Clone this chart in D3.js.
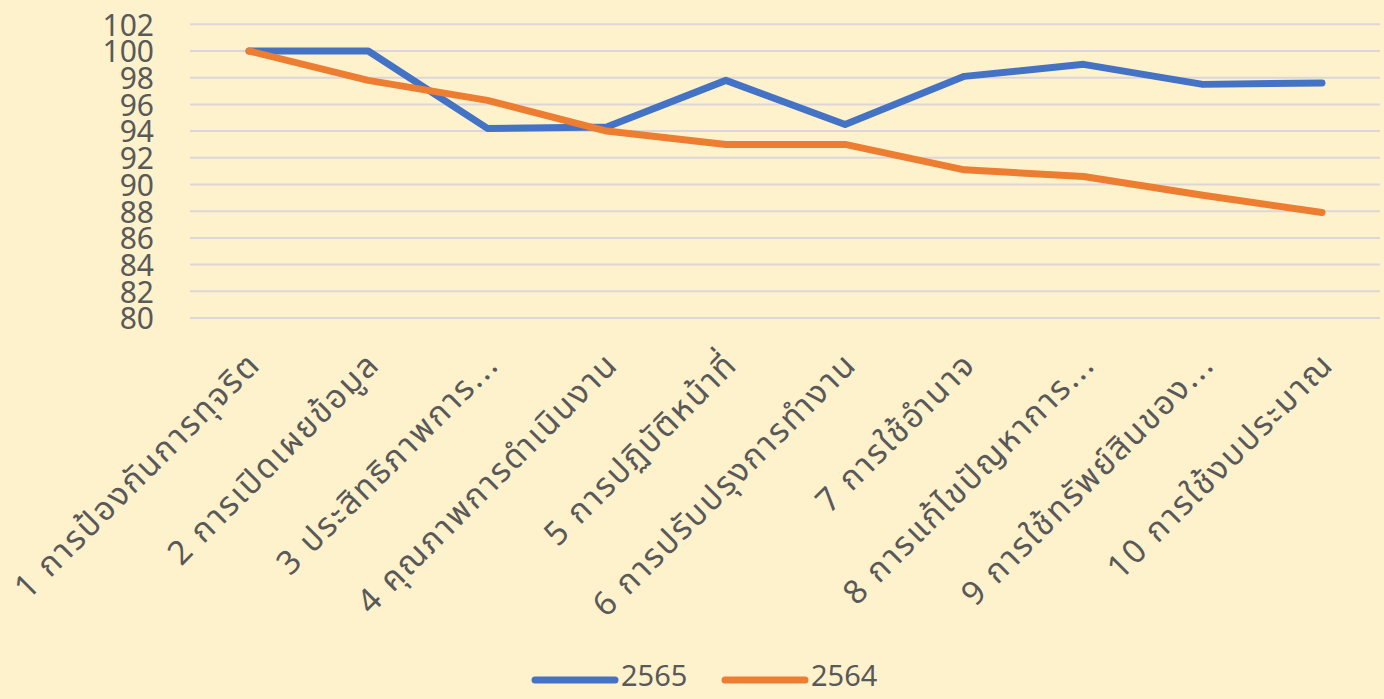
<!DOCTYPE html>
<html><head><meta charset="utf-8">
<script src="https://cdn.jsdelivr.net/npm/d3@7"></script>
<style>
html,body{margin:0;padding:0;background:#FEF2CD;}
svg{display:block;}
text{font-family:"Noto Sans Thai","Leelawadee UI",Tahoma,"Noto Sans","DejaVu Sans",sans-serif;fill:#595959;}
</style></head>
<body>
<svg id="chart" width="1384" height="699"></svg>
<script>
const categories = ["1 การป้องกันการทุจริต","2 การเปิดเผยข้อมูล","3 ประสิทธิภาพการ...","4 คุณภาพการดำเนินงาน","5 การปฏิบัติหน้าที่","6 การปรับปรุงการทำงาน","7 การใช้อำนาจ","8 การแก้ไขปัญหาการ...","9 การใช้ทรัพย์สินของ...","10 การใช้งบประมาณ"];
const series2565 = [100, 100, 94.2, 94.3, 97.8, 94.5, 98.1, 99.0, 97.5, 97.6];
const series2564 = [100, 97.8, 96.3, 94.0, 93.0, 93.0, 91.1, 90.6, 89.2, 87.9];
const yTicks = [80,82,84,86,88,90,92,94,96,98,100,102];
const seriesNames = ["2565","2564"];
const colors = ["#4472C4","#ED7D31"];

const svg = d3.select("#chart");
svg.append("rect").attr("width",1384).attr("height",699).attr("fill","#FEF2CD");

const x = d3.scalePoint().domain(categories).range([249, 1322]);
const y = d3.scaleLinear().domain([80,102]).range([318, 24.3]);

// gridlines
svg.append("g").selectAll("line").data(yTicks).join("line")
  .attr("x1",190).attr("x2",1380)
  .attr("y1",d=>y(d)).attr("y2",d=>y(d))
  .attr("stroke","#DCD6D8").attr("stroke-width",2);

// y axis
const yAxis = d3.axisLeft(y).tickValues(yTicks).tickSize(0).tickPadding(0);
const gy = svg.append("g").attr("transform","translate(154,0)").call(yAxis);
gy.select(".domain").remove();
gy.selectAll("text").style("font-size","30px").attr("fill","#595959").attr("dy","0.36em");

// x axis labels
const xAxis = d3.axisBottom(x).tickSize(0).tickPadding(0);
const gx = svg.append("g").call(xAxis);
gx.select(".domain").remove();
gx.selectAll(".tick").attr("transform", d => `translate(${x(d)-3},350)`);
gx.selectAll("text")
  .attr("y",0).attr("dy","0.7em").attr("x",0)
  .attr("text-anchor","end")
  .attr("transform","rotate(-45)")
  .style("font-size","33px").style("letter-spacing","2px").attr("fill","#595959");

// lines
const line = d3.line().x((d,i)=>x(categories[i])).y(d=>y(d));
[series2565, series2564].forEach((s,k)=>{
  svg.append("path").datum(s)
    .attr("d", line).attr("fill","none")
    .attr("stroke", colors[k]).attr("stroke-width",7)
    .attr("stroke-linejoin","round").attr("stroke-linecap","round");
});

// legend
const legendX = [535, 725];
seriesNames.forEach((n,k)=>{
  const g = svg.append("g").attr("transform",`translate(${legendX[k]},680)`);
  g.append("line").attr("x1",0).attr("x2",80).attr("y1",0).attr("y2",0)
    .attr("stroke",colors[k]).attr("stroke-width",7).attr("stroke-linecap","round");
  g.append("text").attr("x",86).attr("y",6).attr("dy","0em")
    .style("font-size","29px").attr("fill","#595959").text(n);
});
</script>
</body></html>
